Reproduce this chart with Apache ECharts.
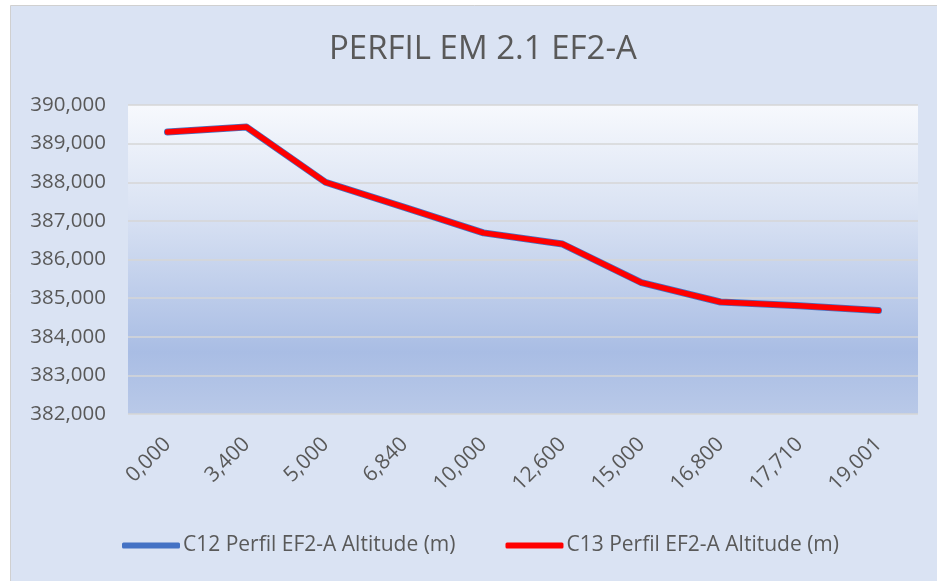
<!DOCTYPE html>
<html>
<head>
<meta charset="utf-8">
<script src="https://cdn.jsdelivr.net/npm/echarts@6/dist/echarts.min.js"></script>
<style>
  html, body { margin: 0; padding: 0; background: #ffffff; }
  #chart { width: 937px; height: 581px; }
</style>
</head>
<body>
<div id="chart"></div>
<script>
// distâncias (categorias do eixo x)
var distancias = ['0,000', '3,400', '5,000', '6,840', '10,000', '12,600', '15,000', '16,800', '17,710', '19,001'];
// altitudes (m)
var altitudeC12 = [389300, 389430, 388000, 387350, 386690, 386400, 385400, 384900, 384800, 384680];
var altitudeC13 = [389300, 389430, 388000, 387350, 386690, 386400, 385400, 384900, 384800, 384680];
var nomesSeries = ['C12 Perfil EF2-A Altitude (m)', 'C13 Perfil EF2-A Altitude (m)'];

var fonte = 'Open Sans';
var corTexto = '#595959';

function formatarMilhar(v) {
    return String(v).replace(/\B(?=(\d{3})+(?!\d))/g, ',');
}

var myChart = echarts.init(document.getElementById('chart'), null, { renderer: 'canvas' });
var option = {
    animation: false,
    graphic: [{
        type: 'rect',
        z: -10,
        shape: { x: 10.5, y: 5.5, width: 940, height: 600 },
        style: { fill: '#dae3f3', stroke: '#d0d0d0', lineWidth: 1 }
    }],
    title: {
        text: 'PERFIL EM 2.1 EF2-A',
        left: 324,
        top: 28,
        textStyle: { fontFamily: fonte, fontSize: 33, fontWeight: 'normal', color: corTexto }
    },
    legend: {
        data: nomesSeries,
        bottom: 20,
        left: 117,
        itemGap: 50,
        itemWidth: 58,
        itemHeight: 6,
        icon: 'roundRect',
        textStyle: { fontFamily: fonte, fontSize: 21, color: corTexto, padding: [0, 0, 0, -2] }
    },
    grid: {
        left: 128,
        right: 19,
        top: 105,
        bottom: 167,
        show: true,
        borderWidth: 0,
        backgroundColor: new echarts.graphic.LinearGradient(0, 0, 0, 1, [
            { offset: 0, color: '#f7f9fd' },
            { offset: 0.35, color: '#d9e2f3' },
            { offset: 0.8, color: '#a9bde4' },
            { offset: 1, color: '#b9c9e8' }
        ])
    },
    xAxis: {
        type: 'category',
        data: distancias,
        boundaryGap: true,
        axisLine: { show: false },
        axisTick: { show: false },
        axisLabel: {
            rotate: 45,
            interval: 0,
            margin: 27,
            fontFamily: fonte,
            fontSize: 21,
            color: corTexto
        }
    },
    yAxis: {
        type: 'value',
        min: 382000,
        max: 390000,
        interval: 1000,
        axisLine: { show: false },
        axisTick: { show: false },
        axisLabel: {
            margin: 22,
            fontFamily: fonte,
            fontSize: 20.5,
            color: corTexto,
            formatter: formatarMilhar
        },
        splitLine: { lineStyle: { color: '#d6d6d6', width: 1.5 } }
    },
    series: [
        {
            name: nomesSeries[0],
            type: 'line',
            data: altitudeC12,
            symbol: 'none',
            color: '#4472c4',
            lineStyle: { width: 7, color: '#4472c4', cap: 'round', join: 'round' }
        },
        {
            name: nomesSeries[1],
            type: 'line',
            data: altitudeC13,
            symbol: 'none',
            color: '#ff0000',
            lineStyle: { width: 5.5, color: '#ff0000', cap: 'round', join: 'round' }
        }
    ]
};
myChart.setOption(option);
window.addEventListener('resize', myChart.resize);
</script>
</body>
</html>
